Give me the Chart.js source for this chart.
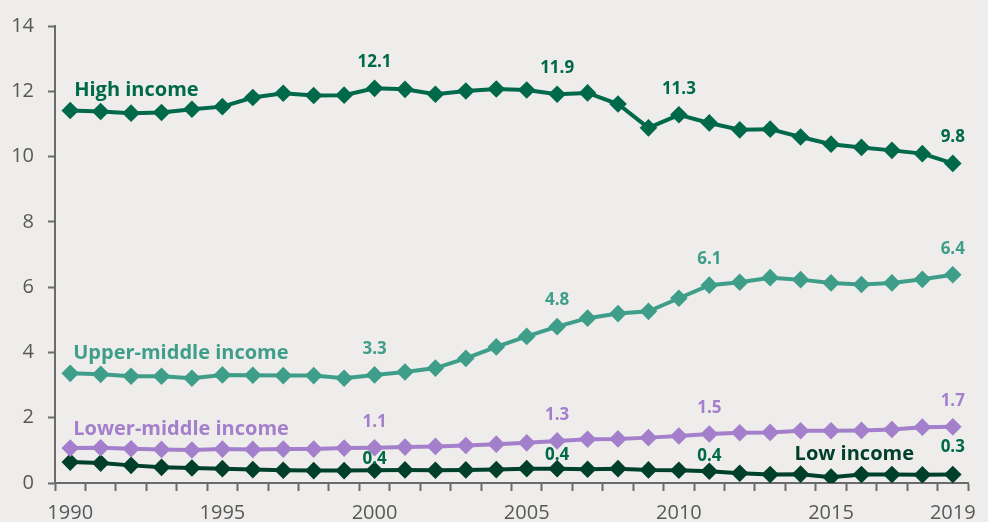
<!DOCTYPE html>
<html>
<head>
<meta charset="utf-8">
<script src="https://cdn.jsdelivr.net/npm/chart.js@4.4.1/dist/chart.umd.min.js"></script>
<style>
  html, body { margin: 0; padding: 0; background: #eeedeb; }
  #wrap { width: 988px; height: 522px; }
</style>
</head>
<body>
<div id="wrap"><canvas id="incomeChart" width="988" height="522"></canvas></div>
<script>
// Years on the x axis
const years = [];
for (let y = 1990; y <= 2019; y++) years.push(String(y));
const shownYears = ['1990', '1995', '2000', '2005', '2010', '2015', '2019'];

// Values per income group
const highIncome = [11.41, 11.38, 11.33, 11.35, 11.45, 11.53, 11.81, 11.94, 11.87, 11.88,
                    12.09, 12.06, 11.91, 12.01, 12.07, 12.04, 11.91, 11.95, 11.61, 10.88,
                    11.28, 11.03, 10.82, 10.84, 10.60, 10.38, 10.28, 10.19, 10.09, 9.79];
const upperMiddle = [3.36, 3.33, 3.27, 3.27, 3.21, 3.31, 3.30, 3.29, 3.29, 3.21,
                     3.31, 3.40, 3.52, 3.82, 4.17, 4.49, 4.79, 5.05, 5.19, 5.26,
                     5.66, 6.06, 6.15, 6.29, 6.23, 6.13, 6.08, 6.13, 6.24, 6.38];
const lowerMiddle = [1.07, 1.08, 1.05, 1.03, 1.01, 1.04, 1.03, 1.04, 1.04, 1.07,
                     1.08, 1.10, 1.12, 1.15, 1.19, 1.23, 1.29, 1.34, 1.35, 1.39,
                     1.44, 1.50, 1.54, 1.55, 1.60, 1.60, 1.61, 1.64, 1.71, 1.72];
const lowIncome = [0.64, 0.61, 0.54, 0.48, 0.46, 0.44, 0.41, 0.39, 0.38, 0.38,
                   0.39, 0.40, 0.39, 0.40, 0.41, 0.44, 0.44, 0.42, 0.44, 0.40,
                   0.39, 0.36, 0.30, 0.26, 0.27, 0.18, 0.26, 0.26, 0.25, 0.26];

// Which points get a value label, and how far above the point it sits
const highLabels = { '2000': 26, '2006': 26, '2010': 26, '2019': 26 };
const upperLabels = { '2000': 26, '2006': 26, '2011': 26, '2019': 26 };
const lowerLabels = { '2000': 26, '2006': 26, '2011': 26, '2019': 26 };
const lowLabels = { '2000': 11, '2006': 13, '2011': 15, '2019': 27 };

const colors = {
    high: '#00694a',
    upper: '#3f9e89',
    lower: '#a47fcb',
    low: '#00402a'
};

function series(label, data, color, valueColor, pointLabels, nameAt) {
    return {
        label: label,
        data: data,
        borderColor: color,
        backgroundColor: color,
        borderWidth: 4,
        pointStyle: 'rectRot',
        pointRadius: 6,
        pointHoverRadius: 6,
        tension: 0,
        valueColor: valueColor,
        pointLabels: pointLabels,
        nameAt: nameAt
    };
}

// Value labels above points and the series names inside the plot
const labelPlugin = {
    id: 'seriesLabels',
    afterDatasetsDraw(chart) {
        const ctx = chart.ctx;
        const xs = chart.scales.x, ys = chart.scales.y;
        ctx.save();
        ctx.textBaseline = 'middle';
        chart.data.datasets.forEach((ds, i) => {
            const meta = chart.getDatasetMeta(i);
            ctx.fillStyle = ds.valueColor;
            ctx.font = 'bold 17px "Open Sans"';
            ctx.textAlign = 'center';
            Object.keys(ds.pointLabels).forEach(yr => {
                const idx = years.indexOf(yr);
                const pt = meta.data[idx];
                ctx.fillText(ds.data[idx].toFixed(1), pt.x, pt.y - ds.pointLabels[yr]);
            });
            // series name, anchored to a year and a value
            ctx.fillStyle = ds.borderColor;
            ctx.font = 'bold 20px "Open Sans"';
            ctx.textAlign = 'left';
            const nx = xs.getPixelForValue(years.indexOf(ds.nameAt[0])) + ds.nameAt[2];
            ctx.fillText(ds.label, nx, ys.getPixelForValue(ds.nameAt[1]));
        });
        ctx.restore();
    }
};

const axisColor = '#6b6b6b';
const tickFont = { family: '"Open Sans"', size: 20 };

new Chart(document.getElementById('incomeChart').getContext('2d'), {
    type: 'line',
    data: {
        labels: years,
        datasets: [
            series('High income', highIncome, colors.high, colors.high, highLabels, ['1990', 12.04, 4]),
            series('Upper-middle income', upperMiddle, colors.upper, colors.upper, upperLabels, ['1990', 3.98, 3]),
            series('Lower-middle income', lowerMiddle, colors.lower, colors.lower, lowerLabels, ['1990', 1.66, 3]),
            series('Low income', lowIncome, colors.low, colors.high, lowLabels, ['2014', 0.87, -6])
        ]
    },
    options: {
        responsive: false,
        animation: false,
        layout: { padding: { top: 20, right: 20, left: 0, bottom: 0 } },
        plugins: {
            legend: { display: false },
            tooltip: { enabled: false }
        },
        scales: {
            x: {
                offset: true,
                grid: {
                    offset: true,
                    drawOnChartArea: false,
                    drawTicks: true,
                    tickLength: 8,
                    tickWidth: 2,
                    color: axisColor
                },
                border: { display: true, color: axisColor, width: 2 },
                ticks: {
                    autoSkip: false,
                    maxRotation: 0,
                    padding: 10,
                    color: '#585858',
                    font: tickFont,
                    callback: function (val) {
                        const y = this.getLabelForValue(val);
                        return shownYears.includes(y) ? y : '';
                    }
                },
                afterFit(scale) { scale.height = 39; }
            },
            y: {
                min: 0,
                max: 14,
                grid: {
                    drawOnChartArea: false,
                    drawTicks: true,
                    tickLength: 7,
                    tickWidth: 2,
                    color: axisColor
                },
                border: { display: true, color: axisColor, width: 2 },
                ticks: {
                    stepSize: 2,
                    padding: 14,
                    color: '#585858',
                    font: tickFont
                },
                afterFit(scale) { scale.width = 55; }
            }
        }
    },
    plugins: [labelPlugin]
});
</script>
</body>
</html>
